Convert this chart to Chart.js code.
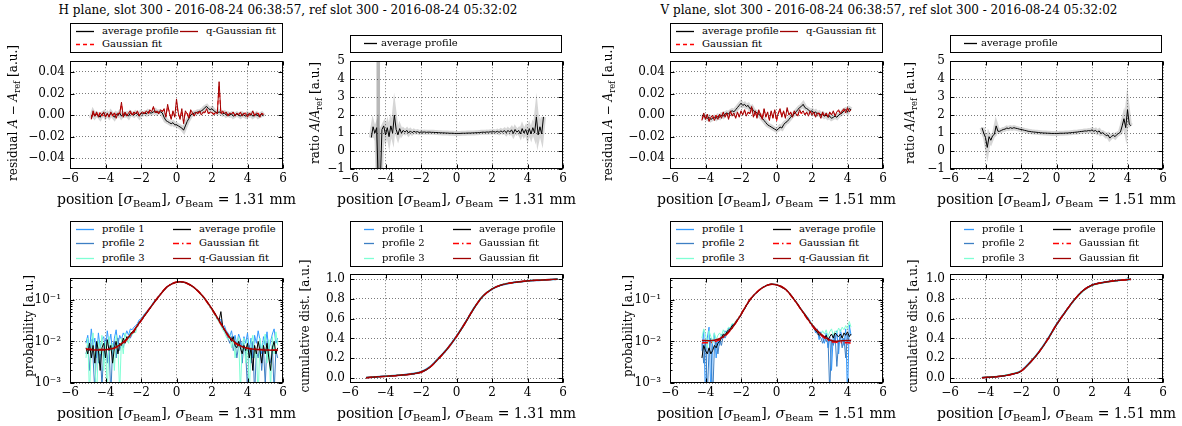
<!DOCTYPE html>
<html>
<head>
<meta charset="utf-8">
<script src="https://cdn.jsdelivr.net/npm/chart.js@4"></script>
<style>
  body { margin: 0; width: 1182px; height: 426px; position: relative; overflow: hidden; background: #fff; font-family: "DejaVu Serif", serif; color: #000; }
  canvas { position: absolute; }
  .t { position: absolute; white-space: nowrap; }
  .title { font-size: 12px; transform: translateX(-50%); }
  .xl { font-size: 14px; transform: translate(-50%, -50%); }
  .yl { font-size: 12px; transform: translate(-50%, -50%) rotate(-90deg); }
  .leg { position: absolute; border: 1px solid #000; background: #fff; box-sizing: border-box; font-size: 10px; }
  .leg span { position: absolute; white-space: nowrap; transform: translateY(-55%); }
  .leg svg { position: absolute; overflow: visible; }
  sub { font-size: 70%; vertical-align: -0.3em; line-height: 0; }
</style>
</head>
<body>
<script>
// ---- axes ----
const xTicks = [-6, -4, -2, 0, 2, 4, 6];
const resTicks = [-0.04, -0.02, 0, 0.02, 0.04];
const ratioTicks = [-1, 0, 1, 2, 3, 4, 5];
const probTicks = [0.001, 0.01, 0.1];
const probTickLabels = ["10\u207B\u00B3", "10\u207B\u00B2", "10\u207B\u00B9"];
const cdfTicks = [0, 0.2, 0.4, 0.6, 0.8, 1.0];

// ---- H plane ----
const xResH = [-4.8,-4.7,-4.6,-4.5,-4.4,-4.3,-4.2,-4.1,-4.0,
  -3.9,-3.8,-3.7,-3.6,-3.5,-3.4,-3.3,-3.2,-3.1,-3.0,
  -2.9,-2.8,-2.7,-2.6,-2.5,-2.4,-2.3,-2.2,-2.1,-2.0,
  -1.9,-1.8,-1.7,-1.6,-1.5,-1.4,-1.3,-1.2,-1.1,-1.0,
  -0.9,-0.8,-0.7,-0.6,-0.5,-0.4,-0.3,-0.2,-0.1,0.0,
  0.1,0.2,0.3,0.4,0.5,0.6,0.7,0.8,0.9,1.0,
  1.1,1.2,1.3,1.4,1.5,1.6,1.7,1.8,1.9,2.0,
  2.1,2.2,2.3,2.4,2.5,2.6,2.7,2.8,2.9,3.0,
  3.1,3.2,3.3,3.4,3.5,3.6,3.7,3.8,3.9,4.0,
  4.1,4.2,4.3,4.4,4.5,4.6,4.7,4.8,4.9];

const resAvgH = [-.003,.002,-.001,.001,.000,-.002,.001,.002,-.001,
  .001,-.001,.002,.000,-.002,.001,.000,.002,-.001,.001,
  .000,.001,-.001,.002,.001,.000,.002,.001,-.001,.002,
  .001,.002,.001,.003,.002,.002,.003,.004,.002,.003,
  .003,.002,-.002,-.005,-.006,-.007,-.008,-.007,-.009,-.009,
  -.010,-.011,-.012,-.014,-.010,-.006,-.003,.000,.001,.002,
  .002,.003,.003,.004,.005,.007,.008,.006,.005,.006,
  .004,.003,.002,.003,.002,.001,.002,.000,.001,.000,
  .001,-.001,.000,.001,.000,-.001,.001,.000,-.001,.001,
  .000,.001,-.001,.000,.001,-.001,.000,.001,-.001];

const resQGaussH = [-.004,.004,-.001,.003,-.002,.002,.000,.003,-.002,
  .002,-.002,.003,.000,.002,-.003,.002,.001,.012,-.002,
  .003,-.001,.002,.004,.000,.003,.001,.004,-.001,.002,
  .003,.001,.004,.002,.005,.003,.008,.002,.004,.001,
  .005,.003,.006,-.002,.010,.002,-.004,.004,-.002,.015,
  .002,-.004,.006,-.008,.004,.001,-.003,.005,.002,-.001,
  .003,.001,.004,.000,.003,.002,.006,.001,.003,.002,
  .000,.003,.001,.031,.002,.004,.001,.003,-.001,.002,
  .001,.003,-.001,.002,.000,.003,-.001,.002,.001,-.002,
  .002,.000,.004,-.001,.002,.001,-.002,.002,.000];

const resGaussH = [-.003,.003,-.002,.002,-.001,.003,-.001,.002,-.001,
  .001,-.001,.002,-.001,.003,-.002,.001,.002,.010,-.001,
  .002,.000,.003,.003,-.001,.002,.002,.003,.000,.001,
  .002,.002,.003,.001,.004,.004,.007,.003,.003,.002,
  .004,.004,.005,-.001,.008,.003,-.003,.003,-.001,.012,
  .001,-.003,.004,-.006,.003,.002,-.002,.004,.001,.000,
  .002,.002,.003,.001,.002,.003,.005,.002,.002,.003,
  .001,.002,.002,.028,.001,.003,.002,.002,.000,.001,
  .002,.002,.000,.001,.001,.002,.000,.001,.002,-.001,
  .001,.001,.003,.000,.001,.002,-.001,.001,.001];

const ratioAvgH = [0.75,1.35,1.0,1.3,-2.0,-2.0,1.2,1.4,0.9,
  1.3,0.8,1.4,1.0,2.0,1.2,0.9,1.25,1.0,1.15,
  1.05,1.15,1.0,1.12,1.02,1.1,1.05,1.08,1.03,1.06,
  1.05,1.06,1.04,1.05,1.05,1.04,1.04,1.03,1.03,1.02,
  1.02,1.01,1.01,1.0,1.0,0.99,0.99,0.99,0.98,0.98,
  0.98,0.98,0.99,0.99,0.99,1.0,1.0,1.0,1.01,1.01,
  1.02,1.02,1.03,1.04,1.05,1.04,1.06,1.05,1.07,1.06,
  1.08,1.05,1.1,1.04,1.12,1.06,1.14,1.02,1.15,1.05,
  1.18,0.98,1.2,1.05,1.15,0.95,1.25,1.0,1.2,0.9,
  1.25,0.95,1.3,1.0,1.9,0.9,1.35,0.95,1.9];
const ratioBandXH = [-4.52, -4.3];
const ratioBandHiH = [6, 6];
const ratioBandLoH = [-2, -2];

const xProbH = [-5.1,-5.0,-4.9,-4.8,-4.7,-4.6,-4.5,-4.4,-4.3,-4.2,
  -4.1,-4.0,-3.9,-3.8,-3.7,-3.6,-3.5,-3.4,-3.3,-3.2,
  -3.1,-3.0,-2.9,-2.8,-2.7,-2.6,-2.5,-2.4,-2.3,-2.2,
  -2.1,-2.0,-1.9,-1.8,-1.7,-1.6,-1.5,-1.4,-1.3,-1.2,
  -1.1,-1.0,-0.9,-0.8,-0.7,-0.6,-0.5,-0.4,-0.3,-0.2,
  -0.1,0.0,0.1,0.2,0.3,0.4,0.5,0.6,0.7,0.8,
  0.9,1.0,1.1,1.2,1.3,1.4,1.5,1.6,1.7,1.8,
  1.9,2.0,2.1,2.2,2.3,2.4,2.5,2.6,2.7,2.8,
  2.9,3.0,3.1,3.2,3.3,3.4,3.5,3.6,3.7,3.8,
  3.9,4.0,4.1,4.2,4.3,4.4,4.5,4.6,4.7,4.8,
  4.9,5.0,5.1,5.2,5.3,5.4,5.5,5.6,5.7];

const prof1H = [.009,.014,.006,.020,.008,.012,.004,.016,.007,.011,
  .013,.006,.018,.009,.015,.005,.012,.019,.008,.014,
  .011,.016,.013,.018,.014,.020,.019,.022,.024,.027,
  .033,.035,.040,.046,.052,.058,.066,.075,.088,.100,
  .110,.125,.140,.158,.175,.195,.212,.230,.240,.255,
  .262,.268,.275,.270,.268,.262,.255,.248,.232,.220,
  .208,.190,.176,.158,.145,.128,.116,.100,.090,.078,
  .066,.058,.050,.042,.036,.030,.034,.022,.024,.018,
  .016,.013,.018,.010,.014,.008,.015,.011,.007,.013,
  .009,.016,.006,.012,.004,.014,.009,.018,.011,.005,
  .013,.008,.017,.006,.010,.015,.020,.009,.012];

const prof2H = [.005,.008,.002,.011,.004,.0006,.009,.003,.007,.0008,
  .006,.011,.003,.008,.0005,.007,.010,.004,.012,.006,
  .009,.007,.011,.010,.013,.012,.015,.018,.020,.023,
  .027,.030,.035,.041,.046,.053,.060,.071,.080,.094,
  .104,.119,.133,.152,.168,.188,.207,.222,.234,.249,
  .258,.264,.268,.270,.265,.262,.256,.247,.236,.221,
  .210,.192,.178,.160,.146,.130,.118,.104,.091,.079,
  .068,.058,.050,.043,.036,.031,.026,.021,.018,.015,
  .012,.009,.013,.006,.010,.004,.008,.011,.003,.009,
  .005,.0007,.008,.003,.010,.0005,.006,.004,.009,.002,
  .007,.0009,.010,.005,.003,.008,.0006,.006,.004];

const prof3H = [.004,.012,.0005,.009,.016,.003,.0004,.011,.005,.014,
  .002,.010,.0005,.013,.006,.009,.002,.014,.007,.0006,
  .012,.005,.016,.011,.009,.017,.014,.019,.016,.026,
  .028,.034,.037,.045,.050,.057,.063,.074,.085,.098,
  .108,.123,.137,.156,.172,.192,.210,.226,.238,.250,
  .260,.266,.270,.268,.267,.260,.254,.246,.233,.220,
  .206,.190,.175,.156,.143,.127,.114,.100,.088,.077,
  .064,.056,.047,.040,.033,.029,.024,.019,.0165,.013,
  .011,.015,.007,.012,.004,.009,.013,.0006,.008,.012,
  .003,.011,.0005,.009,.014,.004,.007,.0004,.012,.006,
  .009,.015,.003,.011,.0007,.013,.005,.017,.008];

const probAvgH = [.007,.005,.009,.004,.008,.003,.010,.006,.002,.007,
  .009,.004,.011,.006,.008,.003,.007,.010,.005,.009,
  .008,.012,.009,.013,.012,.015,.017,.016,.021,.024,
  .029,.031,.036,.043,.047,.055,.061,.073,.082,.096,
  .105,.122,.135,.155,.170,.190,.210,.226,.236,.252,
  .260,.262,.270,.272,.266,.265,.258,.250,.235,.222,
  .212,.193,.180,.160,.148,.132,.120,.106,.093,.080,
  .070,.060,.052,.044,.037,.032,.052,.023,.019,.016,
  .014,.012,.010,.013,.008,.007,.010,.007,.005,.008,
  .006,.009,.004,.007,.002,.008,.005,.010,.006,.003,
  .008,.005,.009,.004,.002,.007,.010,.005,.007];

const fitXH = [-5.1,-4.5,-4,-3.5,-3,-2.5,-2,-1.5,-1,-0.5,0,0.2,0.5,1,1.5,2,2.5,3,3.5,4,4.5,5,5.7];
const gaussFitH = [.0066,.0064,.0064,.0069,.0092,.0155,.031,.063,.122,.212,.266,.270,.258,.193,.118,.058,.026,.012,.0080,.0068,.0065,.0063,.0062];
const qGaussFitH = [.0064,.0062,.0063,.0070,.0095,.016,.032,.062,.120,.210,.265,.270,.260,.195,.120,.060,.027,.0125,.0082,.0068,.0064,.0062,.0061];

const cdfXH = [-5.1,-4.5,-4,-3.5,-3,-2.5,-2,-1.5,-1,-0.5,0,0.5,1,1.5,2,2.5,3,3.5,4,4.5,5,5.7];
const cdfP1H = [.005,.013,.020,.027,.034,.045,.064,.115,.205,.305,.425,.565,.713,.832,.900,.938,.958,.970,.980,.987,.992,1.0];
const cdfP2H = [.004,.011,.017,.024,.031,.041,.058,.108,.197,.297,.418,.558,.708,.828,.899,.940,.961,.973,.983,.989,.994,1.0];
const cdfP3H = [.005,.012,.019,.026,.033,.043,.061,.112,.202,.302,.421,.561,.711,.831,.901,.941,.960,.971,.981,.988,.993,1.0];
const cdfAvgH = [.005,.012,.018,.025,.032,.042,.060,.110,.200,.300,.420,.560,.710,.830,.900,.940,.960,.972,.982,.988,.993,1.0];
const cdfGaussH = [.004,.011,.017,.024,.031,.041,.059,.109,.199,.300,.420,.561,.711,.830,.900,.940,.960,.972,.982,.988,.993,.998];
const cdfQGaussH = [.005,.012,.018,.025,.032,.042,.060,.110,.200,.300,.420,.560,.710,.830,.900,.940,.960,.972,.982,.988,.993,.999];

// ---- V plane ----
const xV = [-4.2,-4.1,-4.0,-3.9,-3.8,-3.7,-3.6,-3.5,-3.4,-3.3,
  -3.2,-3.1,-3.0,-2.9,-2.8,-2.7,-2.6,-2.5,-2.4,-2.3,
  -2.2,-2.1,-2.0,-1.9,-1.8,-1.7,-1.6,-1.5,-1.4,-1.3,
  -1.2,-1.1,-1.0,-0.9,-0.8,-0.7,-0.6,-0.5,-0.4,-0.3,
  -0.2,-0.1,0.0,0.1,0.2,0.3,0.4,0.5,0.6,0.7,
  0.8,0.9,1.0,1.1,1.2,1.3,1.4,1.5,1.6,1.7,
  1.8,1.9,2.0,2.1,2.2,2.3,2.4,2.5,2.6,2.7,
  2.8,2.9,3.0,3.1,3.2,3.3,3.4,3.5,3.6,3.7,
  3.8,3.9,4.0,4.1,4.2];

const resAvgV = [.000,-.001,-.002,-.003,-.002,-.004,-.003,-.002,-.003,-.001,
  -.002,.000,-.001,.001,.002,.001,.003,.004,.003,.005,
  .007,.009,.011,.009,.010,.008,.009,.006,.007,.004,
  .003,.002,.001,-.001,-.003,-.005,-.007,-.009,-.010,-.011,
  -.012,-.013,-.014,-.013,-.011,-.012,-.009,-.007,-.006,-.004,
  -.002,.000,.001,.003,.005,.007,.008,.010,.007,.006,
  .005,.003,.004,.002,.003,.001,.002,.000,.001,-.001,
  .000,-.002,-.001,-.003,-.002,-.001,-.002,.000,.001,.002,
  .004,.005,.003,.006,.005];

const resQGaussV = [-.005,.002,-.004,.001,-.006,-.002,.000,-.005,-.001,-.004,
  .001,-.003,.003,-.002,.002,-.004,.004,-.001,.002,-.003,
  .003,-.002,.004,.000,.005,-.001,.003,.001,.008,-.002,
  .004,-.003,.005,.000,-.004,.006,-.002,.003,-.005,.004,
  -.003,.005,-.004,.002,.006,-.002,.004,-.003,.007,.000,
  .003,-.002,.004,.001,-.001,.005,.002,.004,.000,.003,
  -.001,.004,.000,.003,-.002,.002,.001,-.003,.003,-.001,
  .002,-.002,.003,.000,.004,-.001,.003,.005,.001,.004,
  .006,.002,.007,.003,.005];

const resGaussV = [-.004,.000,-.003,-.001,-.005,-.001,-.002,-.004,.000,-.003,
  .000,-.002,.002,-.001,.001,-.003,.003,.000,.001,-.002,
  .002,-.001,.003,.001,.004,.000,.002,.002,.006,-.001,
  .003,-.002,.004,.001,-.003,.005,-.001,.002,-.004,.003,
  -.002,.004,-.006,.001,.005,-.001,.003,-.002,.005,.001,
  .002,-.001,.003,.002,.000,.004,.001,.003,.001,.002,
  .000,.003,.001,.002,-.001,.001,.002,-.002,.002,.000,
  .001,-.001,.002,.001,.003,.000,.002,.004,.002,.003,
  .005,.003,.006,.004,.004];

const ratioAvgV = [1.3,1.0,0.75,0.2,0.8,0.6,0.85,0.93,1.4,1.1,
  1.1,1.15,1.2,1.22,1.28,1.25,1.3,1.26,1.3,1.27,
  1.25,1.22,1.2,1.18,1.15,1.13,1.1,1.09,1.07,1.06,
  1.05,1.04,1.03,1.02,1.01,1.0,1.0,0.99,0.99,0.98,
  0.98,0.98,0.98,0.98,0.99,0.99,0.99,1.0,1.0,1.01,
  1.02,1.03,1.04,1.05,1.06,1.08,1.09,1.1,1.12,1.11,
  1.14,1.12,1.18,1.1,1.15,1.05,1.12,0.98,1.02,0.95,
  0.85,0.9,0.72,0.82,0.88,0.8,0.92,0.98,1.05,1.4,
  1.8,1.3,2.3,1.5,1.4];

const prof1V = [.006,.019,.0004,.012,.022,.0005,.009,.016,.004,.011,
  .008,.015,.012,.018,.016,.021,.019,.026,.024,.030,
  .035,.036,.045,.052,.062,.072,.086,.100,.113,.127,
  .142,.153,.168,.185,.198,.208,.220,.228,.235,.240,
  .238,.236,.232,.222,.212,.200,.192,.180,.166,.150,
  .134,.120,.102,.090,.080,.068,.060,.052,.046,.041,
  .036,.031,.023,.024,.016,.020,.011,.017,.012,.009,
  .016,.007,.013,.002,.015,.009,.018,.005,.019,.012,
  .008,.020,.0005,.025,.014];

const prof2V = [.009,.003,.011,.0005,.006,.012,.0004,.007,.010,.005,
  .011,.008,.014,.012,.015,.018,.020,.022,.027,.028,
  .032,.038,.042,.054,.059,.074,.082,.097,.109,.123,
  .138,.149,.164,.180,.193,.204,.217,.225,.231,.236,
  .235,.233,.228,.219,.209,.197,.189,.176,.163,.147,
  .131,.117,.099,.088,.077,.065,.057,.049,.044,.038,
  .033,.029,.026,.020,.019,.015,.0135,.012,.009,.013,
  .010,.012,.0006,.011,.008,.014,.0025,.010,.013,.007,
  .012,.004,.015,.009,.011];

const prof3V = [.012,.020,.015,.007,.018,.013,.009,.016,.011,.014,
  .016,.013,.019,.015,.018,.022,.021,.027,.026,.031,
  .034,.039,.046,.055,.061,.075,.084,.099,.112,.126,
  .141,.152,.166,.184,.196,.207,.219,.228,.234,.240,
  .240,.236,.231,.222,.213,.200,.193,.179,.166,.150,
  .135,.120,.103,.091,.080,.068,.060,.052,.047,.040,
  .035,.030,.027,.022,.020,.017,.016,.014,.018,.015,
  .019,.013,.017,.020,.014,.018,.016,.021,.017,.022,
  .019,.024,.020,.030,.022];

const probAvgV = [.004,.008,.006,.005,.007,.005,.006,.008,.007,.009,
  .010,.012,.015,.014,.017,.019,.020,.024,.025,.029,
  .033,.037,.043,.053,.060,.073,.083,.098,.110,.124,
  .140,.150,.165,.182,.194,.205,.218,.226,.232,.238,
  .236,.234,.229,.220,.210,.198,.190,.178,.165,.148,
  .132,.118,.100,.089,.078,.066,.058,.050,.045,.039,
  .034,.028,.025,.021,.018,.017,.014,.015,.013,.012,
  .014,.011,.013,.015,.012,.016,.014,.013,.015,.012,
  .016,.014,.017,.013,.015];

const fitXV = [-4.2,-3.8,-3.5,-3,-2.5,-2,-1.5,-1,-0.5,-0.25,0,0.5,1,1.5,2,2.5,3,3.3,3.7,4.2];
const gaussFitV = [.0092,.0093,.0098,.0125,.021,.045,.100,.168,.226,.236,.230,.179,.100,.049,.024,.014,.0102,.0096,.0093,.0092];
const qGaussFitV = [.0105,.0104,.0106,.013,.021,.044,.100,.167,.225,.235,.230,.180,.100,.050,.025,.015,.0108,.0101,.0103,.0105];

const cdfXV = [-4.2,-3.5,-3,-2.5,-2,-1.5,-1,-0.5,0,0.5,1,1.5,2,2.5,3,3.5,4.2];
const cdfP1V = [.004,.011,.021,.041,.073,.160,.265,.395,.545,.672,.790,.884,.938,.961,.975,.987,1.0];
const cdfP2V = [.005,.012,.022,.039,.069,.153,.258,.388,.538,.668,.789,.885,.941,.964,.978,.989,1.0];
const cdfP3V = [.006,.014,.024,.043,.072,.157,.262,.392,.541,.669,.788,.882,.937,.960,.974,.986,1.0];
const cdfAvgV = [.005,.012,.022,.040,.070,.155,.260,.390,.540,.670,.790,.885,.940,.963,.977,.988,1.0];
const cdfGaussV = [.004,.011,.021,.039,.070,.155,.260,.390,.540,.670,.790,.886,.940,.963,.977,.988,.997];
const cdfQGaussV = [.005,.012,.022,.040,.070,.155,.260,.390,.540,.670,.790,.885,.940,.963,.977,.988,.999];

// ---- drawing ----
const PAD_L = 62, PAD_R = 12, PAD_T = 8, PAD_B = 24;
const GRID = "#7a7a7a";
const DARKRED = "#a00000";
const SHADOW = "rgba(0,0,0,0.16)";
const C1 = "#3399ff", C2 = "#3d7fc4", C3 = "#7fffd4";
const tickFont = { family: "DejaVu Serif", size: 12 };

const minus = (s) => s.replace("-", "\u2212");
const pts = (xs, ys) => xs.map((x, i) => ({ x, y: ys[i] }));

function line(xs, ys, color, width, dash, smooth) {
  return {
    data: pts(xs, ys), borderColor: color, borderWidth: width, borderDash: dash || [],
    pointRadius: 0, fill: false, clip: 0,
    cubicInterpolationMode: smooth ? "monotone" : "default",
  };
}

function band(xs, hi, lo, color) {
  return [
    { data: pts(xs, hi), borderWidth: 0, pointRadius: 0, fill: "+1", backgroundColor: color, clip: 0 },
    { data: pts(xs, lo), borderWidth: 0, pointRadius: 0, fill: false, clip: 0 },
  ];
}

const frameTicks = {
  id: "frameTicks",
  afterDraw(chart) {
    const { ctx, chartArea: a } = chart;
    const sx = chart.scales.x, sy = chart.scales.y;
    const L = Math.round(a.left) + 0.5, R = Math.round(a.right) - 0.5;
    const T = Math.round(a.top) + 0.5, B = Math.round(a.bottom) - 0.5;
    ctx.save();
    ctx.strokeStyle = "#000";
    ctx.lineWidth = 1;
    ctx.beginPath();
    xTicks.forEach((v) => {
      const p = Math.round(sx.getPixelForValue(v)) + 0.5;
      ctx.moveTo(p, B); ctx.lineTo(p, B - 4);
      ctx.moveTo(p, T); ctx.lineTo(p, T + 4);
    });
    sy.ticks.forEach((t) => {
      const p = Math.round(sy.getPixelForValue(t.value)) + 0.5;
      ctx.moveTo(L, p); ctx.lineTo(L + 4, p);
      ctx.moveTo(R, p); ctx.lineTo(R - 4, p);
    });
    if (sy.type === "logarithmic") {
      probTicks.forEach((d) => {
        for (let k = 2; k <= 9; k++) {
          const v = d * k;
          if (v > sy.max) continue;
          const p = Math.round(sy.getPixelForValue(v)) + 0.5;
          ctx.moveTo(L, p); ctx.lineTo(L + 2, p);
          ctx.moveTo(R, p); ctx.lineTo(R - 2, p);
        }
      });
    }
    ctx.stroke();
    ctx.strokeRect(L, T, R - L, B - T);
    ctx.restore();
  },
};

function yAxis(kind) {
  const base = {
    afterFit: (s) => { s.width = PAD_L; },
    grid: { color: GRID, lineWidth: 1, drawTicks: false },
    border: { display: false, dash: [1, 2] },
    ticks: { font: tickFont, color: "#000", padding: 5, autoSkip: false },
  };
  let ticks;
  if (kind === "res") {
    Object.assign(base, { type: "linear", min: -0.05, max: 0.05 });
    ticks = resTicks;
    base.ticks.callback = (v) => minus(v.toFixed(2));
  } else if (kind === "ratio") {
    Object.assign(base, { type: "linear", min: -1, max: 5 });
    ticks = ratioTicks;
    base.ticks.callback = (v) => minus(String(v));
  } else if (kind === "prob") {
    Object.assign(base, { type: "logarithmic", min: 0.001, max: 0.33 });
    ticks = probTicks;
    base.ticks.padding = 9;
    base.ticks.callback = (v) => probTickLabels[probTicks.findIndex((p) => Math.abs(p - v) < p * 1e-6)];
  } else {
    Object.assign(base, { type: "linear", min: -0.05, max: 1.05 });
    ticks = cdfTicks;
    base.ticks.callback = (v) => v.toFixed(1);
  }
  base.afterBuildTicks = (s) => { s.ticks = ticks.map((v) => ({ value: v })); };
  return base;
}

function makeChart(box, kind, datasets) {
  // later datasets are drawn on top, as in the original figure
  datasets.forEach((d, i) => { d.order = datasets.length - i; });
  const cv = document.createElement("canvas");
  const w = box.r - box.l + PAD_L + PAD_R;
  const h = box.b - box.t + PAD_T + PAD_B;
  cv.width = w; cv.height = h;
  cv.style.left = box.l - PAD_L + "px";
  cv.style.top = box.t - PAD_T + "px";
  cv.style.width = w + "px"; cv.style.height = h + "px";
  document.body.appendChild(cv);
  return new Chart(cv, {
    type: "line",
    data: { datasets },
    options: {
      responsive: false, animation: false, devicePixelRatio: 1,
      layout: { padding: { left: 0, right: PAD_R, top: PAD_T, bottom: 0 } },
      plugins: { legend: { display: false }, tooltip: { enabled: false } },
      elements: { line: { tension: 0 } },
      scales: {
        x: {
          type: "linear", min: -6, max: 6,
          afterBuildTicks: (s) => { s.ticks = xTicks.map((v) => ({ value: v })); },
          afterFit: (s) => { s.height = PAD_B; },
          ticks: { font: tickFont, color: "#000", padding: 3, maxRotation: 0, autoSkip: false, callback: (v) => minus(String(v)) },
          grid: { color: GRID, lineWidth: 1, drawTicks: false },
          border: { display: false, dash: [1, 2] },
        },
        y: yAxis(kind),
      },
    },
    plugins: [frameTicks],
  });
}

function addText(cls, x, y, html) {
  const d = document.createElement("div");
  d.className = "t " + cls;
  d.style.left = x + "px";
  d.style.top = y + "px";
  d.innerHTML = html;
  document.body.appendChild(d);
}

function addLegend(l, t, w, h, entries) {
  const box = document.createElement("div");
  box.className = "leg";
  Object.assign(box.style, { left: l + "px", top: t + "px", width: w + "px", height: h + "px" });
  entries.forEach((e) => {
    const len = e.x1 - e.x0;
    box.insertAdjacentHTML("beforeend",
      `<svg style="left:${e.x0 - 1}px;top:${e.y - 4}px" width="${len}" height="8">` +
      `<line x1="0" y1="3.5" x2="${len}" y2="3.5" stroke="${e.color}" stroke-width="${e.width || 1.3}" stroke-dasharray="${e.dash || "none"}"/></svg>` +
      `<span style="left:${e.tx - 1}px;top:${e.y - 1}px">${e.label}</span>`);
  });
  document.body.appendChild(box);
}

const xLabel = (s) => `position [<i>σ</i><sub>Beam</sub>], <i>σ</i><sub>Beam</sub> = ${s} mm`;
const resLabel = "residual <i>A</i> \u2212 <i>A</i><sub>ref</sub> [a.u.]";
const ratioLabel = "ratio <i>A</i>/<i>A</i><sub>ref</sub> [a.u.]";

function residualLegend(l) {
  addLegend(l, 23, 213, 30, [
    { x0: 6, x1: 24, tx: 32, y: 8, color: "#000", label: "average profile" },
    { x0: 6, x1: 24, tx: 32, y: 21, color: "#ff0000", dash: "4,3", label: "Gaussian fit" },
    { x0: 110, x1: 128, tx: 136, y: 8, color: DARKRED, label: "q-Gaussian fit" },
  ]);
}
function ratioLegend(l) {
  addLegend(l, 35, 212, 18, [{ x0: 14, x1: 27, tx: 31, y: 8, color: "#000", label: "average profile" }]);
}
function profileLegend(l, lastLabel, s) {
  addLegend(l, 221, 213, 46, [
    { x0: s, x1: 24, tx: 32, y: 8, color: C1, label: "profile 1" },
    { x0: s, x1: 24, tx: 32, y: 22, color: C2, label: "profile 2" },
    { x0: s, x1: 24, tx: 32, y: 37, color: C3, label: "profile 3" },
    { x0: 103, x1: 121, tx: 129, y: 8, color: "#000", label: "average profile" },
    { x0: 103, x1: 121, tx: 129, y: 22, color: "#ff0000", dash: "6,3,1.5,3", width: 1.5, label: "Gaussian fit" },
    { x0: 103, x1: 121, tx: 129, y: 37, color: DARKRED, label: lastLabel },
  ]);
}

function planeCharts(o) {
  const top = { t: 57, b: 169 }, bot = { t: 270, b: 383 };
  makeChart({ l: o.l1, r: o.l1 + 213, ...top }, "res", [
    line(o.xRes, o.resAvg, SHADOW, 5),
    line(o.xRes, o.resAvg, "#000", 1),
    line(o.xRes, o.resGauss, "#ff0000", 1, [4, 3]),
    line(o.xRes, o.resQGauss, DARKRED, 1),
  ]);
  makeChart({ l: o.l2, r: o.l2 + 213, ...top }, "ratio", [
    ...(o.band ? band(o.band[0], o.band[1], o.band[2], "rgba(0,0,0,0.28)") : []),
    line(o.xRes, o.ratioAvg, SHADOW, 5),
    line(o.xRes, o.ratioAvg, "#000", 1),
  ]);
  makeChart({ l: o.l1, r: o.l1 + 213, ...bot }, "prob", [
    line(o.xProb, o.p1, C1, 1),
    line(o.xProb, o.p2, C2, 1),
    line(o.xProb, o.p3, C3, 1),
    line(o.xProb, o.pAvg, "#000", 1),
    line(o.fitX, o.gFit, "#ff0000", 1.5, [6, 3, 1, 3], true),
    line(o.fitX, o.qFit, DARKRED, 1.5, null, true),
  ]);
  makeChart({ l: o.l2, r: o.l2 + 213, ...bot }, "cdf", [
    line(o.cdfX, o.c1, C1, 1.5, null, true),
    line(o.cdfX, o.c2, C2, 1.5, null, true),
    line(o.cdfX, o.c3, C3, 1.5, null, true),
    line(o.cdfX, o.cAvg, "#000", 1.2, null, true),
    line(o.cdfX, o.cG, "#ff0000", 1.5, [6, 3, 1, 3], true),
    line(o.cdfX, o.cQ, DARKRED, 1.2, null, true),
  ]);

  const c1 = o.l1 + 106.5, c2 = o.l2 + 106.5;
  addText("title", o.titleX, 3, o.title);
  addText("xl", c1, 199, xLabel(o.sigma));
  addText("xl", c2, 199, xLabel(o.sigma));
  addText("xl", c1, 413, xLabel(o.sigma));
  addText("xl", c2, 413, xLabel(o.sigma));
  addText("yl", o.yl[0], 113, resLabel);
  addText("yl", o.yl[1], 113, ratioLabel);
  addText("yl", o.yl[2], 326, "probability [a.u.]");
  addText("yl", o.yl[3], 326, "cumulative dist. [a.u.]");
  residualLegend(o.l1);
  ratioLegend(o.l2);
  profileLegend(o.l1, "q-Gaussian fit", 6);
  profileLegend(o.l2, "Gaussian fit", 14);
}

planeCharts({
  l1: 70, l2: 350, titleX: 288, sigma: "1.31", yl: [13, 315, 29, 305],
  title: "H plane, slot 300 - 2016-08-24 06:38:57, ref slot 300 - 2016-08-24 05:32:02",
  xRes: xResH, resAvg: resAvgH, resGauss: resGaussH, resQGauss: resQGaussH,
  ratioAvg: ratioAvgH, band: [ratioBandXH, ratioBandHiH, ratioBandLoH],
  xProb: xProbH, p1: prof1H, p2: prof2H, p3: prof3H, pAvg: probAvgH,
  fitX: fitXH, gFit: gaussFitH, qFit: qGaussFitH,
  cdfX: cdfXH, c1: cdfP1H, c2: cdfP2H, c3: cdfP3H, cAvg: cdfAvgH, cG: cdfGaussH, cQ: cdfQGaussH,
});

planeCharts({
  l1: 670, l2: 950, titleX: 889, sigma: "1.51", yl: [608, 910, 628, 913],
  title: "V plane, slot 300 - 2016-08-24 06:38:57, ref slot 300 - 2016-08-24 05:32:02",
  xRes: xV, resAvg: resAvgV, resGauss: resGaussV, resQGauss: resQGaussV,
  ratioAvg: ratioAvgV, band: null,
  xProb: xV, p1: prof1V, p2: prof2V, p3: prof3V, pAvg: probAvgV,
  fitX: fitXV, gFit: gaussFitV, qFit: qGaussFitV,
  cdfX: cdfXV, c1: cdfP1V, c2: cdfP2V, c3: cdfP3V, cAvg: cdfAvgV, cG: cdfGaussV, cQ: cdfQGaussV,
});
</script>
</body>
</html>
